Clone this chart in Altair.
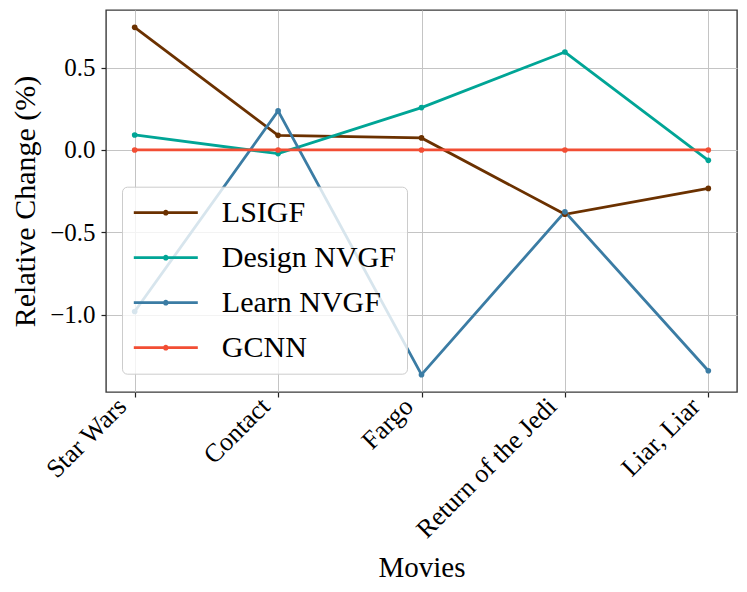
import altair as alt
import pandas as pd

movies = ["Star Wars", "Contact", "Fargo", "Return of the Jedi", "Liar, Liar"]
series = ["LSIGF", "Design NVGF", "Learn NVGF", "GCNN"]
lsigf = [0.744, 0.089, 0.073, -0.390, -0.233]
design_nvgf = [0.091, -0.022, 0.257, 0.594, -0.063]
learn_nvgf = [-0.980, 0.237, -1.363, -0.375, -1.339]
gcnn = [0.0, 0.0, 0.0, 0.0, 0.0]
colors = ["#6b3100", "#00a596", "#3b7ca4", "#f24e34"]
y_ticks = [-1.0, -0.5, 0.0, 0.5]

values = {"LSIGF": lsigf, "Design NVGF": design_nvgf, "Learn NVGF": learn_nvgf, "GCNN": gcnn}
rows = []
for s in series:
    for i, (m, v) in enumerate(zip(movies, values[s])):
        rows.append({"Movie": m, "Value": v, "Series": s, "idx": i})
df = pd.DataFrame(rows)

FONT = "Liberation Serif"
sym = "M-3.2,0H3.2M-0.15,0A0.15,0.15,0,1,1,0.15,0A0.15,0.15,0,1,1,-0.15,0Z"

chart = alt.Chart(df).mark_line(
    strokeWidth=2.8,
    point=alt.OverlayMarkDef(size=32, filled=True, opacity=1),
).encode(
    x=alt.X("Movie:N", sort=movies,
            scale=alt.Scale(type="point", padding=0.2),
            axis=alt.Axis(title="Movies", labelAngle=-45, labelAlign="right",
                          labelBaseline="middle", labelPadding=5, labelOffset=-13,
                          labelFontSize=26, labelLimit=400,
                          titleFontSize=29, titleFontWeight="normal",
                          titleBaseline="alphabetic", titleY=184,
                          tickSize=5, grid=True)),
    y=alt.Y("Value:Q",
            scale=alt.Scale(domain=[-1.468, 0.849], nice=False, zero=False),
            axis=alt.Axis(title="Relative Change (%)", values=y_ticks, format=".1f",
                          labelFontSize=25, labelPadding=6, tickSize=5,
                          titleFontSize=30, titleFontWeight="normal",
                          titleX=-66, titleY=191, grid=True)),
    color=alt.Color("Series:N", sort=series,
                    scale=alt.Scale(domain=series, range=colors),
                    legend=alt.Legend(title=None, orient="none", legendX=16, legendY=176.7,
                                      symbolType=sym, symbolSize=400, symbolStrokeWidth=2.8,
                                      symbolOffset=17.8, labelOffset=41,
                                      labelFont=FONT, labelFontSize=30, labelLimit=400,
                                      rowPadding=15, padding=11,
                                      fillColor="rgba(255,255,255,0.8)",
                                      strokeColor="#cccccc", cornerRadius=5)),
    order=alt.Order("idx:Q"),
).properties(
    width=631, height=382,
    autosize=alt.AutoSizeParams(type="none"),
    padding={"left": 98, "top": 2, "right": 2, "bottom": 190},
).configure(
    font=FONT,
).configure_axis(
    domain=False,
    gridColor="#c4c4c4", gridWidth=1,
    tickColor="#222222", tickWidth=1.2,
    labelColor="black", titleColor="black",
    labelFont=FONT, titleFont=FONT,
).configure_view(
    stroke="#3a3a3a", strokeWidth=1.4,
)

chart.save("out.html", embed_options={"renderer": "svg", "actions": False})
